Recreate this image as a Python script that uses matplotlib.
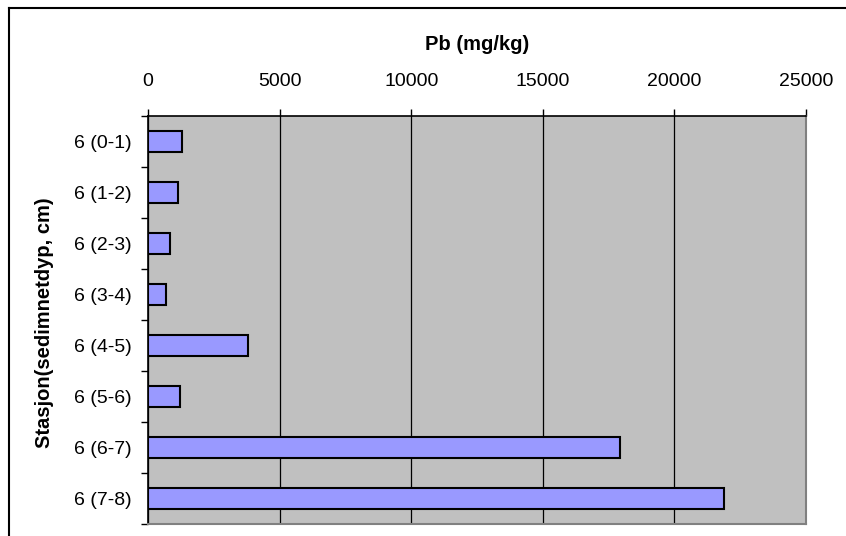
import numpy as np
import matplotlib.pyplot as plt
from matplotlib.lines import Line2D

# data
stations = ['6 (0-1)', '6 (1-2)', '6 (2-3)', '6 (3-4)', '6 (4-5)', '6 (5-6)', '6 (6-7)', '6 (7-8)']
pb = [1280, 1130, 850, 700, 3800, 1200, 17950, 21900]
x_ticks = [0, 5000, 10000, 15000, 20000, 25000]

plt.rcParams['font.family'] = ['Liberation Sans', 'DejaVu Sans']

W, H = 846, 536
fig = plt.figure(figsize=(W / 100, H / 100), dpi=100)
ax = fig.add_axes([148 / W, 1 - 524 / H, (806 - 148) / W, (524 - 116) / H])

# gray plot area with black vertical gridlines
ax.set_facecolor('#c0c0c0')
pos = np.arange(len(stations))
ax.barh(pos, pb, height=0.42, color='#9999ff', edgecolor='black', linewidth=1.5, zorder=3)

ax.set_xlim(0, 25000)
ax.set_ylim(len(stations) - 0.5, -0.5)
ax.set_xticks(x_ticks)
ax.xaxis.tick_top()
ax.grid(axis='x', color='black', linewidth=0.9, zorder=1)
ax.set_axisbelow(True)

# category labels in the middle, tick marks on the boundaries
ax.set_yticks(pos)
ax.set_yticklabels(stations)
ax.set_yticks(np.arange(len(stations) + 1) - 0.5, minor=True)
ax.tick_params(axis='y', which='major', length=0, pad=11.5, labelsize=14)
ax.tick_params(axis='y', which='minor', length=5, width=1, direction='out', color='black')
ax.tick_params(axis='x', which='major', length=5, width=1, direction='out', pad=13.5, labelsize=14)

for s in ['left', 'top']:
    ax.spines[s].set_color('black')
    ax.spines[s].set_linewidth(1.2)
for s in ['right', 'bottom']:
    ax.spines[s].set_color('#808080')
    ax.spines[s].set_linewidth(1.5)

# axis titles
fig.text(477 / W, 1 - 45 / H, 'Pb (mg/kg)', ha='center', va='center',
         fontsize=14.5, fontweight='bold')
fig.text(45 / W, 1 - 323 / H, 'Stasjon(sedimnetdyp, cm)', ha='center', va='center',
         rotation=90, fontsize=14.5, fontweight='bold')

# outer chart border (right and bottom sides fall outside the picture)
fig.add_artist(Line2D([8.5 / W, 8.5 / W], [0, 1 - 7.5 / H], color='black', linewidth=1.5,
                      transform=fig.transFigure))
fig.add_artist(Line2D([8.5 / W, 1], [1 - 7.5 / H, 1 - 7.5 / H], color='black', linewidth=1.5,
                      transform=fig.transFigure))

plt.savefig('out.png', dpi=100)
